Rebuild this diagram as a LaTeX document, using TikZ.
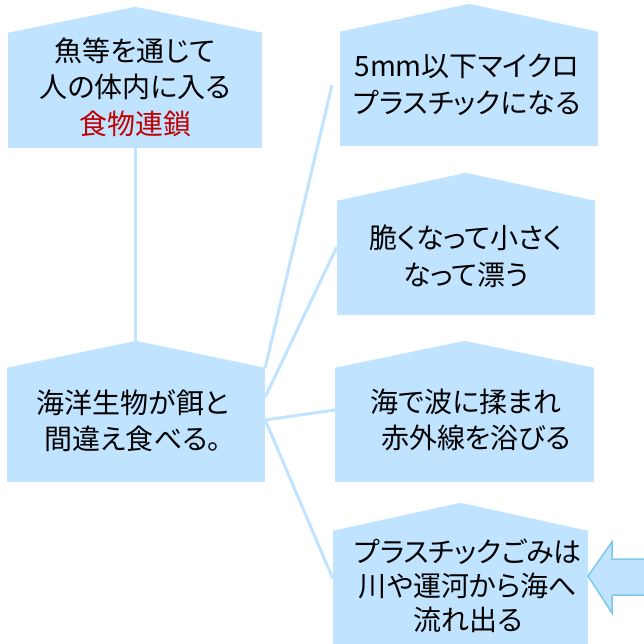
\documentclass[tikz,border=0pt]{standalone}
\usepackage{fontspec}
\setmainfont{Noto Sans CJK JP}[RawFeature=+palt]
\definecolor{boxblue}{RGB}{192,228,255}
\definecolor{arrowline}{RGB}{125,200,235}
\definecolor{chainred}{RGB}{192,0,0}
\tikzset{
  housebox/.style 2 args={draw=none, fill=boxblue, inner sep=0pt, minimum width=#1pt, minimum height=#2pt},
  label/.style={align=center, inner sep=0pt, font=\fontsize{28pt}{36.5pt}\selectfont, text=black},
  link/.style={draw=boxblue, line width=3pt},
  bigarrow/.style={draw=arrowline, fill=boxblue, line width=1.5pt, line join=miter}
}
\newcommand{\houseroof}[2]{\fill[boxblue] (#1.north west) -- ([yshift=#2pt]#1.north) -- (#1.north east) -- cycle;}
\begin{document}
\begin{tikzpicture}[x=1pt,y=-1pt]
\useasboundingbox (0,0) rectangle (644,644);
% boxes
\node[housebox={254}{115}] (b1) at (135,90.5) {};
\node[housebox={258}{114}] (b2) at (136,425) {};
\node[housebox={258}{114}] (b3) at (469,89) {};
\node[housebox={258}{114}] (b4) at (466,258) {};
\node[housebox={259}{114}] (b5) at (464.5,425) {};
\node[housebox={255}{129}] (b6) at (460.5,595.5) {};
\houseroof{b1}{26}
\houseroof{b2}{27}
\houseroof{b3}{28}
\houseroof{b4}{28}
\houseroof{b5}{27}
\houseroof{b6}{28}
% connectors
\coordinate (freeend) at (332,85);
\coordinate (b2peak) at ([yshift=27pt]b2.north);
\draw[link] (b1.south) -- (b1.south |- b2peak);
\draw[link] (b2.north east) -- (freeend);
\draw[link] ([yshift=28pt]b2.east) -- ([yshift=11pt]b4.west);
\draw[link] ([yshift=5pt]b2.east) -- ([yshift=15pt]b5.west);
\draw[link] ([yshift=5pt]b2.east) -- ([yshift=17pt]b6.west);
% texts
\node[label] (t1) at (135,87) {魚等を通じて\\人の体内に入る\\\textcolor{chainred}{食物連鎖}};
\node[label] (t2) at (133,421) {海洋生物が餌と\\間違え食べる。};
\node[label] (t3) at (467,85) {5mm以下マイクロ\\プラスチックになる};
\node[label] (t4) at (466,256) {脆くなって小さく\\なって漂う};
\node[label] (t5) at (466,420) {海で波に揉まれ\\\hspace*{20pt}赤外線を浴びる};
\node[label, font=\fontsize{28pt}{34pt}\selectfont] (t6) at (468,586) {プラスチックごみは\\川や運河から海へ\\流れ出る};
% arrow
\begin{scope}
\clip (0,0) rectangle (644,644);
\draw[bigarrow] (588,576) -- (612,542) -- (612,559) -- (660,559) -- (660,595) -- (612,595) -- (612,613) -- cycle;
\end{scope}
\end{tikzpicture}
\end{document}
